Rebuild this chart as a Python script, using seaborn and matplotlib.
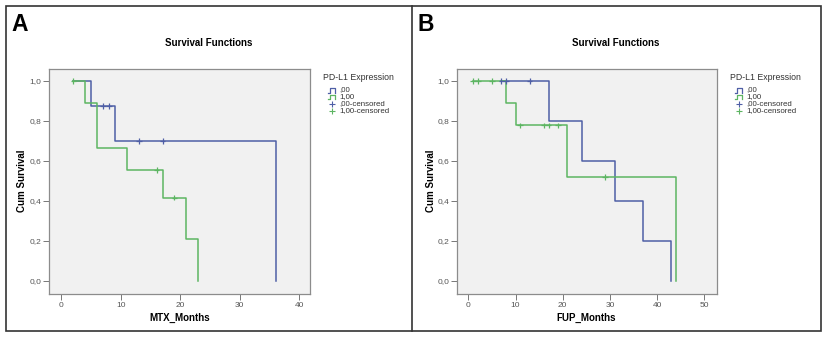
import numpy as np
import pandas as pd
import matplotlib
matplotlib.use("Agg")
import matplotlib.pyplot as plt
from matplotlib.lines import Line2D
from matplotlib.patches import Rectangle
import seaborn as sns

# Panel A: MTX_Months, Kaplan-Meier steps
a_t0 = [2, 5, 9, 36]
a_s0 = [1.0, 0.875, 0.70, 0.0]
a_ct0 = [7, 8, 13, 17]
a_cs0 = [0.875, 0.875, 0.70, 0.70]
a_t1 = [2, 4, 6, 11, 17, 21, 23]
a_s1 = [1.0, 0.889, 0.667, 0.556, 0.417, 0.208, 0.0]
a_ct1 = [2, 16, 19]
a_cs1 = [1.0, 0.556, 0.417]

# Panel B: FUP_Months
b_t0 = [7, 17, 24, 31, 37, 43]
b_s0 = [1.0, 0.8, 0.6, 0.4, 0.2, 0.0]
b_ct0 = [7, 8, 13]
b_cs0 = [1.0, 1.0, 1.0]
b_t1 = [1, 8, 10, 21, 44]
b_s1 = [1.0, 0.889, 0.778, 0.519, 0.0]
b_ct1 = [1, 2, 5, 11, 16, 17, 19, 29]
b_cs1 = [1.0, 1.0, 1.0, 0.778, 0.778, 0.778, 0.778, 0.519]

groups = [",00", "1,00"]
legend_labels = [",00", "1,00", ",00-censored", "1,00-censored"]
y_ticks = [0.0, 0.2, 0.4, 0.6, 0.8, 1.0]
y_ticklabels = ["0,0", "0,2", "0,4", "0,6", "0,8", "1,0"]
a_xticks = [0, 10, 20, 30, 40]
b_xticks = [0, 10, 20, 30, 40, 50]

BLUE = "#4f5fa6"
GREEN = "#5db562"
PAL = {",00": BLUE, "1,00": GREEN}

W, H = 825, 337
plt.rcParams['font.family'] = ['Liberation Sans', 'DejaVu Sans']


def fx(px):
    return px / W


def fy(py):
    return 1 - py / H


def make_df(t0, s0, t1, s1):
    d0 = pd.DataFrame({"time": t0, "surv": s0, "grp": groups[0]})
    d1 = pd.DataFrame({"time": t1, "surv": s1, "grp": groups[1]})
    return pd.concat([d0, d1], ignore_index=True)


def huatu(ax, curves, cens, xlim, xticks):
    ax.set_facecolor("#f1f1f1")
    sns.lineplot(data=curves, x="time", y="surv", hue="grp", palette=PAL,
                 drawstyle="steps-post", estimator=None, sort=False,
                 linewidth=1.1, legend=False, ax=ax)
    sns.scatterplot(data=cens, x="time", y="surv", hue="grp", palette=PAL,
                    marker="+", s=16, linewidth=0.9, legend=False, ax=ax, zorder=5)
    ax.set_xlim(xlim)
    ax.set_ylim(-0.065, 1.06)
    ax.set_xticks(xticks)
    ax.set_xticklabels([str(v) for v in xticks])
    ax.set_yticks(y_ticks)
    ax.set_yticklabels(y_ticklabels)
    ax.set_xlabel("")
    ax.set_ylabel("")
    for sp in ax.spines.values():
        sp.set_color("#8c8c8c")
        sp.set_linewidth(0.9)
    ax.tick_params(direction="out", length=4, width=0.7, color="#777777",
                   labelsize=6, labelcolor="#555555", pad=1.5)
    ax.grid(False)


fig = plt.figure(figsize=(W / 100, H / 100), dpi=100)
fig.patch.set_facecolor("white")

axA = fig.add_axes([fx(49), fy(294), fx(310) - fx(49), fy(69) - fy(294)])
axB = fig.add_axes([fx(457), fy(294), fx(717) - fx(457), fy(69) - fy(294)])

cA = make_df(a_t0, a_s0, a_t1, a_s1)
kA = make_df(a_ct0, a_cs0, a_ct1, a_cs1)
cB = make_df(b_t0, b_s0, b_t1, b_s1)
kB = make_df(b_ct0, b_cs0, b_ct1, b_cs1)

huatu(axA, cA, kA, (-2.1, 41.8), a_xticks)
huatu(axB, cB, kB, (-2.4, 52.7), b_xticks)

# texts
for cx, lab_x, ylab_x, xlab, letter, letter_x in [(209, 180, 22, "MTX_Months", "A", 11),
                                                  (616, 586, 431, "FUP_Months", "B", 417)]:
    fig.text(fx(cx), fy(43), "Survival Functions", ha="center", va="center",
             fontsize=7, fontweight="bold")
    fig.text(fx(lab_x), fy(318), xlab, ha="center", va="center",
             fontsize=7, fontweight="bold")
    fig.text(fx(ylab_x), fy(181), "Cum Survival", ha="center", va="center",
             rotation=90, fontsize=7, fontweight="bold")
    fig.text(fx(letter_x), fy(13), letter, ha="left", va="top",
             fontsize=16.5, fontweight="bold")

# legends drawn by hand (SPSS style)
for lx in [323, 730]:
    fig.text(fx(lx), fy(77), "PD-L1 Expression", ha="left", va="center",
             fontsize=6.3, color="#333333")
    rows = [90, 97, 104, 111]
    for i, (ry, lab) in enumerate(zip(rows, legend_labels)):
        col = [BLUE, GREEN][i % 2]
        if i < 2:
            xs = [lx + 5, lx + 7, lx + 7, lx + 12, lx + 12]
            ys = [ry + 2.5, ry + 2.5, ry - 2.5, ry - 2.5, ry + 2.5]
            fig.add_artist(Line2D([fx(v) for v in xs], [fy(v) for v in ys],
                                  color=col, lw=0.9))
        else:
            fig.add_artist(Line2D([fx(lx + 8.5)], [fy(ry)], marker="+", markersize=4,
                                  mew=0.8, color=col, lw=0))
        fig.text(fx(lx + 16), fy(ry), lab, ha="left", va="center",
                 fontsize=5.7, color="#333333")

# panel frames
fig.add_artist(Rectangle((fx(6), fy(331)), fx(821) - fx(6), fy(6) - fy(331),
                         fill=False, edgecolor="#333333", lw=1.2))
fig.add_artist(Line2D([fx(412), fx(412)], [fy(6), fy(331)], color="#333333", lw=1.2))

plt.savefig("out.png", dpi=100)
